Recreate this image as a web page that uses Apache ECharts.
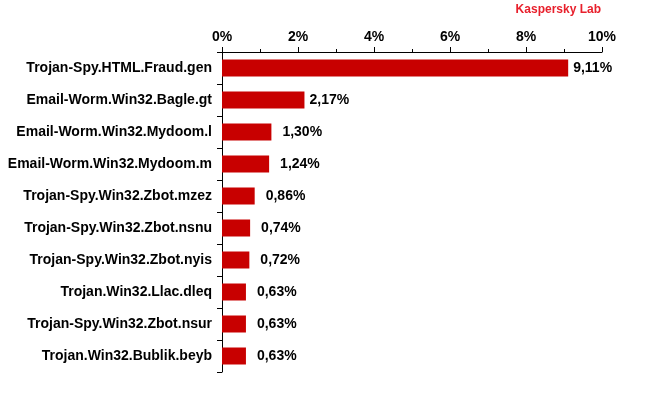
<!DOCTYPE html>
<html><head><meta charset="utf-8">
<script src="https://cdn.jsdelivr.net/npm/echarts@6/dist/echarts.min.js"></script>
<style>html,body{margin:0;padding:0;background:#fff}#c{width:650px;height:400px}</style>
</head><body><div id="c"></div>
<script>
var categories = ["Trojan-Spy.HTML.Fraud.gen","Email-Worm.Win32.Bagle.gt","Email-Worm.Win32.Mydoom.l","Email-Worm.Win32.Mydoom.m","Trojan-Spy.Win32.Zbot.mzez","Trojan-Spy.Win32.Zbot.nsnu","Trojan-Spy.Win32.Zbot.nyis","Trojan.Win32.Llac.dleq","Trojan-Spy.Win32.Zbot.nsur","Trojan.Win32.Bublik.beyb"];
var values = [9.11,2.17,1.30,1.24,0.86,0.74,0.72,0.63,0.63,0.63];
var tickLabels = ["0%","2%","4%","6%","8%","10%"];
var chart = echarts.init(document.getElementById('c'));
var font = "'Liberation Sans', Arial, sans-serif";
var barData = values.map(function(v){
  return {value:v, label:{distance: v > 2 ? 5 : 11}};
});
chart.setOption({
  animation:false,
  title:{text:"Kaspersky Lab",right:44,top:-1,textStyle:{color:"#e8202c",fontSize:12,fontWeight:"bold",fontFamily:font}},
  grid:{left:222,right:48,top:52,bottom:28},
  xAxis:{type:"value",position:"top",min:0,max:10,interval:2,
    axisLine:{show:true,lineStyle:{color:"#000",width:1}},
    axisTick:{show:true,inside:false,length:5,lineStyle:{color:"#000"}},
    minorTick:{show:true,splitNumber:2,length:3,lineStyle:{color:"#000"}},
    splitLine:{show:false},
    axisLabel:{formatter:function(v){return tickLabels[Math.round(v/2)];},color:"#000",fontSize:14,fontWeight:"bold",fontFamily:font,margin:8}},
  yAxis:{type:"category",inverse:true,data:categories,
    axisLine:{show:true,lineStyle:{color:"#000",width:1}},
    axisTick:{show:true,length:5,lineStyle:{color:"#000"}},
    axisLabel:{color:"#000",fontSize:14,fontWeight:"bold",fontFamily:font,margin:10}},
  series:[{type:"bar",data:barData,barWidth:17,
    itemStyle:{color:"#c80000"},
    label:{show:true,position:"right",distance:5,color:"#000",fontSize:14,fontWeight:"bold",fontFamily:font,
      formatter:function(p){return p.value.toFixed(2).replace(".",",")+"%";}}}]
});
</script></body></html>
